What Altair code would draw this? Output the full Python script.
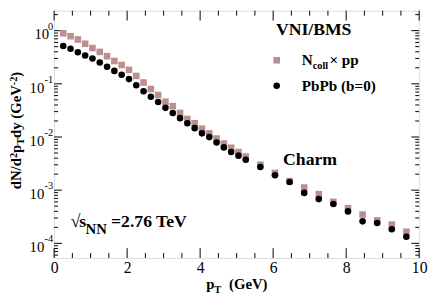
import altair as alt
import pandas as pd

# ---------------- data ----------------
pt = [0.25, 0.45, 0.65, 0.85, 1.05, 1.25, 1.45, 1.65, 1.85, 2.05, 2.25, 2.45, 2.65,
      2.85, 3.05, 3.25, 3.45, 3.65, 3.85, 4.05, 4.25, 4.45, 4.65, 4.85, 5.05, 5.25,
      5.65, 6.05, 6.45, 6.85, 7.25, 7.65, 8.05, 8.45, 8.85, 9.25, 9.65]

ncoll_pp = [0.892, 0.785, 0.682, 0.566, 0.471, 0.398, 0.331, 0.268, 0.226, 0.183,
            0.1405, 0.1057, 0.0798, 0.0614, 0.0461, 0.0380, 0.0283, 0.0218, 0.0181,
            0.01435, 0.0117, 0.00934, 0.00755, 0.00627, 0.00522, 0.00428, 0.00301,
            0.00211, 0.00148, 0.00112, 0.00084, 0.000603, 0.000458, 0.000348,
            0.00027, 0.000225, 0.000165]

pbpb = [0.513, 0.458, 0.393, 0.340, 0.299, 0.252, 0.210, 0.175, 0.148, 0.1227,
        0.0938, 0.0727, 0.0571, 0.0456, 0.0353, 0.0282, 0.0226, 0.0181, 0.01466,
        0.0117, 0.00995, 0.00788, 0.00637, 0.00522, 0.00446, 0.00372, 0.00272,
        0.00191, 0.00142, 0.000888, 0.000679, 0.000549, 0.000399, 0.000259,
        0.000242, 0.000184, 0.000133]

series_names = ["ncoll", "pbpb"]
series_colors = ["#bc8f8f", "#000000"]
series_shapes = ["square", "circle"]

x_major = [0, 2, 4, 6, 8, 10]
x_minor = [0.5, 1, 1.5, 2.5, 3, 3.5, 4.5, 5, 5.5, 6.5, 7, 7.5, 8.5, 9, 9.5]
y_major = [1, 0.1, 0.01, 0.001, 0.0001]
y_exp = ["0", "-1", "-2", "-3", "-4"]
y_minor = [6e-5, 7e-5, 8e-5, 9e-5,
           2e-4, 3e-4, 4e-4, 5e-4, 6e-4, 7e-4, 8e-4, 9e-4,
           2e-3, 3e-3, 4e-3, 5e-3, 6e-3, 7e-3, 8e-3, 9e-3,
           2e-2, 3e-2, 4e-2, 5e-2, 6e-2, 7e-2, 8e-2, 9e-2,
           0.2, 0.3, 0.4, 0.5, 0.6, 0.7, 0.8, 0.9, 2]

# ---------------- layout ----------------
W, H = 372, 252
F = "'Liberation Serif', 'Times New Roman', Times, serif"

xscale = alt.Scale(domain=[0, 10], nice=False, zero=False)
yscale = alt.Scale(type="log", domain=[5.3e-5, 2.37], nice=False)
xaxis = alt.Axis(values=x_major, format="d", labelFont=F, labelFontSize=16,
                 labelColor="black", ticks=False, tickSize=0, domain=False,
                 grid=False, title=None, labelPadding=15,
                 labelBaseline="alphabetic", labelFlush=False)


def X(f):
    return alt.X(f + ":Q", scale=xscale, axis=xaxis)


def Y(f):
    return alt.Y(f + ":Q", scale=yscale, axis=None)


df = pd.DataFrame({
    "x": pt + pt,
    "y": ncoll_pp + pbpb,
    "series": [series_names[0]] * len(pt) + [series_names[1]] * len(pt),
})

leg = alt.Legend(orient="none", legendX=223.3, legendY=47, title=None,
                 labelExpr="''", labelFontSize=1, symbolSize=45, rowPadding=19,
                 symbolStrokeWidth=0, padding=0, symbolOpacity=1)

points = alt.Chart(df).mark_point(filled=True, size=45, opacity=1).encode(
    x=X("x"), y=Y("y"),
    color=alt.Color("series:N", scale=alt.Scale(domain=series_names, range=series_colors), legend=leg),
    shape=alt.Shape("series:N", scale=alt.Scale(domain=series_names, range=series_shapes), legend=leg),
)


def vticks(vals, y1, y2):
    return alt.Chart(pd.DataFrame({"x": vals})).mark_rule(color="black", strokeWidth=1).encode(
        x=X("x"), y=alt.value(y1), y2=alt.value(y2))


def hticks(vals, x1, x2):
    return alt.Chart(pd.DataFrame({"y": vals})).mark_rule(color="black", strokeWidth=1).encode(
        y=Y("y"), x=alt.value(x1), x2=alt.value(x2))


ticks = [
    vticks(x_major, H, H - 10), vticks(x_minor, H, H - 5),
    vticks(x_major, 0, 10), vticks(x_minor, 0, 5),
    hticks(y_major, 0, 8), hticks(y_minor, 0, 4),
    hticks(y_major, W, W - 8), hticks(y_minor, W, W - 4),
]

ylab = pd.DataFrame({"y": y_major, "e": y_exp})
ten0 = alt.Chart(ylab).transform_filter("datum.e == '0'").mark_text(
    text="10", align="right", baseline="alphabetic", dy=9, fontSize=15, font=F, color="black"
).encode(y=Y("y"), x=alt.value(-5))
tenN = alt.Chart(ylab).transform_filter("datum.e != '0'").mark_text(
    text="10", align="right", baseline="alphabetic", dy=9, fontSize=15, font=F, color="black"
).encode(y=Y("y"), x=alt.value(-10))
exps = alt.Chart(ylab).mark_text(
    align="right", baseline="alphabetic", dy=-1, fontSize=10.5, font=F, color="black"
).encode(y=Y("y"), x=alt.value(-1), text="e:N")

one = pd.DataFrame({"a": [0]})


def txt(s, x, y, size, bold=True, angle=0):
    return alt.Chart(one).mark_text(
        text=s, fontSize=size, font=F, fontWeight="bold" if bold else "normal",
        align="left", baseline="alphabetic", angle=angle, color="black"
    ).encode(x=alt.value(x), y=alt.value(y))


texts = [
    txt("VNI/BMS", 226, 24.7, 18),
    txt("N", 252.3, 55.3, 15.5),
    txt("coll", 263.5, 59.5, 10.5),
    txt("\u00d7 pp", 280.5, 55.3, 15.5),
    txt("PbPb (b=0)", 252.3, 82, 15.5),
    txt("Charm", 233.3, 157, 18),
    txt("\u221a", 17, 220.3, 18, bold=False),
    txt("s", 25.5, 220.3, 18),
    txt("NN", 32, 227.5, 15),
    txt("=2.76 TeV", 58, 220.3, 18),
    # x title
    txt("p", 155, 283.5, 15),
    txt("T", 163.3, 287.5, 10.5),
    txt("(GeV)", 178.3, 283.5, 15),
    # y title (rotated)
    txt("dN/d", -34, 181.9, 15, angle=270),
    txt("2", -38, 150.2, 10.5, angle=270),
    txt("p", -34, 144.95, 15, angle=270),
    txt("T", -30.5, 136.6, 10.5, angle=270),
    txt("dy (GeV", -34, 129.6, 15, angle=270),
    txt("-2", -38, 75.9, 10.5, angle=270),
    txt(")", -34, 67.2, 15, angle=270),
]

chart = alt.layer(*ticks, points, ten0, tenN, exps, *texts).properties(
    width=W, height=H,
    autosize=alt.AutoSizeParams(type="none"),
    padding={"left": 47, "top": 0, "right": 9, "bottom": 38},
).configure_view(stroke="black", strokeWidth=1).configure(background="white")

chart.save("out.html", embed_options={"renderer": "svg", "actions": False})
